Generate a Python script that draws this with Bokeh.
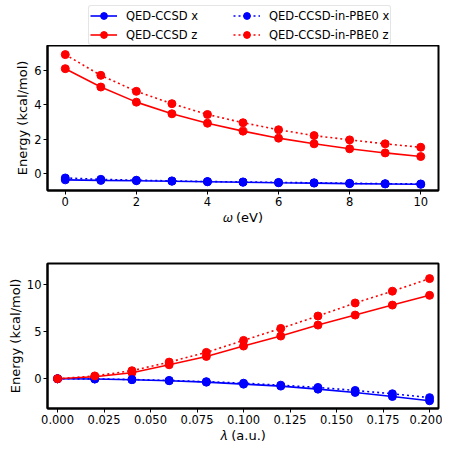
from bokeh.plotting import figure
from bokeh.layouts import column
from bokeh.models import Legend, LegendItem, FixedTicker, PrintfTickFormatter, Range1d
from bokeh.embed import file_html
from bokeh.resources import INLINE

# ---- data ----
omega = [0, 1, 2, 3, 4, 5, 6, 7, 8, 9, 10]
w_ccsd_x = [-0.38, -0.41, -0.43, -0.46, -0.49, -0.52, -0.55, -0.57, -0.60, -0.62, -0.64]
w_ccsd_z = [6.10, 5.03, 4.15, 3.47, 2.92, 2.46, 2.05, 1.72, 1.43, 1.19, 0.98]
w_pbe0_x = [-0.27, -0.35, -0.40, -0.44, -0.48, -0.50, -0.53, -0.55, -0.58, -0.60, -0.62]
w_pbe0_z = [6.92, 5.71, 4.78, 4.06, 3.43, 2.95, 2.54, 2.20, 1.95, 1.72, 1.52]

lam = [0.0, 0.02, 0.04, 0.06, 0.08, 0.10, 0.12, 0.14, 0.16, 0.18, 0.20]
l_ccsd_x = [0.0, -0.03, -0.10, -0.21, -0.36, -0.57, -0.78, -1.10, -1.45, -1.88, -2.33]
l_ccsd_z = [0.0, 0.21, 0.64, 1.48, 2.36, 3.46, 4.52, 5.68, 6.74, 7.80, 8.83]
l_pbe0_x = [0.0, -0.02, -0.08, -0.18, -0.31, -0.47, -0.68, -0.92, -1.24, -1.59, -2.00]
l_pbe0_z = [0.0, 0.30, 0.85, 1.76, 2.79, 4.06, 5.33, 6.64, 8.02, 9.27, 10.60]

labels = ["QED-CCSD x", "QED-CCSD z", "QED-CCSD-in-PBE0 x", "QED-CCSD-in-PBE0 z"]
top_xticks = [0, 2, 4, 6, 8, 10]
top_yticks = [0, 2, 4, 6]
bot_xticks = [0.0, 0.025, 0.05, 0.075, 0.1, 0.125, 0.15, 0.175, 0.2]
bot_yticks = [0, 5, 10]

BLUE = "#0000ff"
RED = "#ff0000"
FONT = "DejaVu Sans"
series_style = [(BLUE, "solid"), (RED, "solid"), (BLUE, "2 3"), (RED, "2 3")]


def style(p, xticks, yticks, xlabel):
    p.xgrid.visible = False
    p.ygrid.visible = False
    p.outline_line_color = "black"
    p.outline_line_width = 2
    p.background_fill_color = "white"
    p.border_fill_color = "white"
    for ax in (p.xaxis[0], p.yaxis[0]):
        ax.axis_line_color = "black"
        ax.axis_line_width = 2
        ax.major_tick_line_color = "black"
        ax.major_tick_line_width = 1
        ax.major_tick_out = 4
        ax.major_tick_in = 0
        ax.minor_tick_line_color = None
        ax.major_label_text_font = FONT
        ax.major_label_text_font_size = "11.5px"
        ax.major_label_text_color = "black"
        ax.axis_label_text_font = FONT
        ax.axis_label_text_font_size = "13px"
        ax.axis_label_text_font_style = "normal"
        ax.axis_label_text_color = "black"
        ax.major_label_standoff = 2
        ax.axis_label_standoff = 1
    p.xaxis[0].ticker = FixedTicker(ticks=xticks)
    p.yaxis[0].ticker = FixedTicker(ticks=yticks)
    p.xaxis[0].axis_label = xlabel
    p.yaxis[0].axis_label = "Energy (kcal/mol)"


def draw(p, x, ys):
    for y, (color, dash) in zip(ys, series_style):
        p.line(x, y, line_color=color, line_width=1.6, line_dash=dash)
        p.scatter(x, y, size=8, fill_color=color, line_color=color)


# ---- legend strip (proxy renderers kept outside its visible range) ----
leg = figure(width=442, height=45, output_backend="svg", toolbar_location=None,
             x_range=Range1d(0, 1), y_range=Range1d(0, 1),
             x_axis_location=None, y_axis_location=None,
             min_border_left=0, min_border_right=0, min_border_top=0, min_border_bottom=0)
leg.xgrid.visible = False
leg.ygrid.visible = False
leg.outline_line_color = None
leg_rs = []
for color, dash in series_style:
    ln = leg.line([-5, -4], [-5, -4], line_color=color, line_width=1.6, line_dash=dash)
    sc = leg.scatter([-5], [-5], size=8, fill_color=color, line_color=color)
    leg_rs.append((ln, sc))
items = [LegendItem(label=lab, renderers=list(r)) for lab, r in zip(labels, leg_rs)]
legend = Legend(items=items, ncols=2, location=(41, 0),
                label_text_font=FONT, label_text_font_size="11.5px",
                label_text_color="black",
                glyph_width=27, glyph_height=17, label_height=17, label_width=105,
                label_standoff=9, spacing=2, padding=1, margin=0,
                border_line_color="#cccccc", border_line_width=1, border_radius=3,
                background_fill_alpha=1.0)
leg.add_layout(legend, "center")

# ---- top panel ----
top = figure(frame_width=391, frame_height=145, output_backend="svg", toolbar_location=None,
             x_range=Range1d(-0.5, 10.5), y_range=Range1d(-1.0, 7.45),
             min_border_left=47, min_border_right=4, min_border_top=0, min_border_bottom=4)
style(top, top_xticks, top_yticks, "\U0001D714 (eV)")
draw(top, omega, [w_ccsd_x, w_ccsd_z, w_pbe0_x, w_pbe0_z])

# ---- bottom panel ----
bot = figure(frame_width=391, frame_height=145, output_backend="svg", toolbar_location=None,
             x_range=Range1d(-0.0054, 0.2048), y_range=Range1d(-3.15, 12.2),
             min_border_left=47, min_border_right=4, min_border_top=36, min_border_bottom=4)
style(bot, bot_xticks, bot_yticks, "\U0001D706 (a.u.)")
bot.xaxis[0].formatter = PrintfTickFormatter(format="%.3f")
draw(bot, lam, [l_ccsd_x, l_ccsd_z, l_pbe0_x, l_pbe0_z])

layout = column(leg, top, bot, spacing=0)
open("out.html", "w").write(file_html(layout, INLINE))
